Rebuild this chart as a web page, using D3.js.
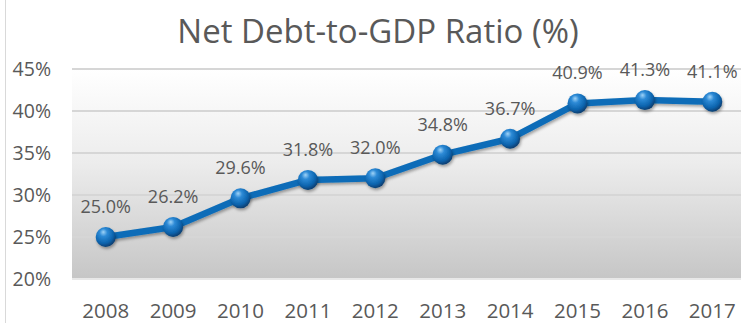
<!DOCTYPE html>
<html><head><meta charset="utf-8">
<script src="https://cdn.jsdelivr.net/npm/d3@7"></script>
<style>html,body{margin:0;padding:0;background:#fff;overflow:hidden}</style>
</head><body>
<svg id="c" width="741" height="323"></svg>
<script>
const years = ["2008","2009","2010","2011","2012","2013","2014","2015","2016","2017"];
const ratios = [25.0, 26.2, 29.6, 31.8, 32.0, 34.8, 36.7, 40.9, 41.3, 41.1];
const yTicks = [20, 25, 30, 35, 40, 45];
const title = "Net Debt-to-GDP Ratio (%)";

const svg = d3.select("#c");
const W = 741, H = 323;
const m = {left: 72, right: -5, top: 69, bottom: 279};
const font = "'Open Sans', sans-serif";
const txt = "#595959";

const x = d3.scaleBand().domain(years).range([m.left, W - m.right]).padding(0);
const y = d3.scaleLinear().domain([20, 45]).range([m.bottom, m.top]);

const defs = svg.append("defs");
const bg = defs.append("linearGradient").attr("id","bg").attr("x1",0).attr("y1",0).attr("x2",0).attr("y2",1);
bg.append("stop").attr("offset","0%").attr("stop-color","#ffffff");
bg.append("stop").attr("offset","45%").attr("stop-color","#ececec");
bg.append("stop").attr("offset","100%").attr("stop-color","#c6c6c6");

const ball = defs.append("radialGradient").attr("id","ball").attr("cx","40%").attr("cy","35%").attr("r","65%").attr("fx","38%").attr("fy","25%");
ball.append("stop").attr("offset","0%").attr("stop-color","#9fd3f7");
ball.append("stop").attr("offset","30%").attr("stop-color","#2d8ad6");
ball.append("stop").attr("offset","75%").attr("stop-color","#0b63ad");
ball.append("stop").attr("offset","100%").attr("stop-color","#083f72");

const sh = defs.append("filter").attr("id","sh").attr("x","-20%").attr("y","-20%").attr("width","140%").attr("height","160%");
sh.append("feDropShadow").attr("dx",1).attr("dy",2).attr("stdDeviation",1.5).attr("flood-color","#000").attr("flood-opacity",0.35);

// left frame line
svg.append("line").attr("x1",5.5).attr("x2",5.5).attr("y1",0).attr("y2",H).attr("stroke","#d9d9d9").attr("stroke-width",1);

// plot background
svg.append("rect").attr("x", m.left).attr("y", y(45)).attr("width", W - m.left).attr("height", y(20) - y(45)).attr("fill","url(#bg)");

// gridlines
svg.append("g").selectAll("line").data(yTicks).join("line")
  .attr("x1", m.left).attr("x2", W)
  .attr("y1", d => y(d)).attr("y2", d => y(d))
  .attr("stroke", d => d === 20 ? "#e8e8e8" : "#d6d6d6").attr("stroke-width", 2);

// y axis
const yAxis = svg.append("g").attr("transform", `translate(${m.left - 21},0)`)
  .call(d3.axisLeft(y).tickValues(yTicks).tickFormat(d => d + "%").tickSize(0).tickPadding(0));
yAxis.select(".domain").remove();
yAxis.selectAll("text").attr("font-family", font).attr("font-size", 19.5).attr("fill", txt).attr("dy","0.35em");

// x axis
const xAxis = svg.append("g").attr("transform", `translate(0,${m.bottom + 32})`)
  .call(d3.axisBottom(x).tickSize(0).tickPadding(0));
xAxis.select(".domain").remove();
xAxis.selectAll("text").attr("font-family", font).attr("font-size", 20.5).attr("fill", txt).attr("dy","0.35em");

// title
svg.append("text").attr("x", 378).attr("y", 43).attr("text-anchor","middle")
  .attr("font-family", font).attr("font-size", 33).attr("fill", txt).text(title);

// line
const cx = (d, i) => x(years[i]) + x.bandwidth() / 2;
svg.append("path").datum(ratios)
  .attr("d", d3.line().x(cx).y(d => y(d)))
  .attr("fill","none").attr("stroke","#0b6cb8").attr("stroke-width",6.5)
  .attr("stroke-linejoin","round").attr("filter","url(#sh)");

// markers
svg.append("g").selectAll("circle").data(ratios).join("circle")
  .attr("cx", cx).attr("cy", d => y(d)).attr("r", 10)
  .attr("fill","url(#ball)").attr("filter","url(#sh)");

// data labels
svg.append("g").selectAll("text").data(ratios).join("text")
  .attr("x", cx).attr("y", d => y(d) - 24)
  .attr("text-anchor","middle").attr("font-family", font).attr("font-size", 18).attr("fill", txt)
  .text(d => d.toFixed(1) + "%");
</script>
</body></html>
